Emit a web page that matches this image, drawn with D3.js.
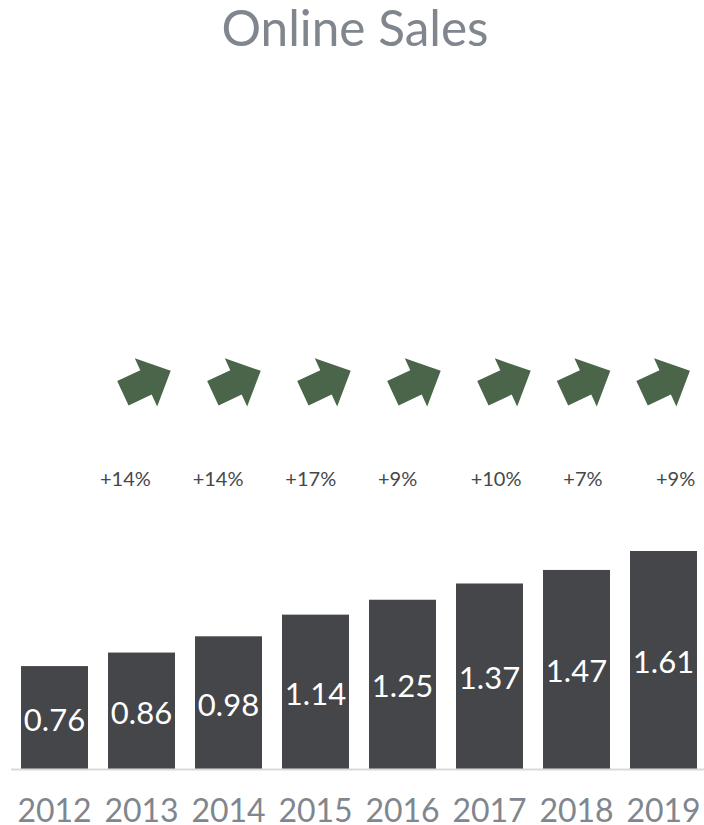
<!DOCTYPE html>
<html>
<head>
<meta charset="utf-8">
<script src="https://cdn.jsdelivr.net/npm/d3@7"></script>
<style>
  html, body { margin: 0; padding: 0; background: #ffffff; }
  svg { display: block; }
  text { font-family: Lato, "Open Sans", sans-serif; }
</style>
</head>
<body>
<svg id="chart" width="704" height="825"></svg>
<script>
// ---- data ----
const title = "Online Sales";
const years = ["2012", "2013", "2014", "2015", "2016", "2017", "2018", "2019"];
const sales = [0.76, 0.86, 0.98, 1.14, 1.25, 1.37, 1.47, 1.61];
const growthPct = [14, 14, 17, 9, 10, 7, 9];

// ---- layout ----
const svg = d3.select("#chart");

const x = d3.scaleBand()
  .domain(years)
  .range([11, 707])
  .paddingInner(0.23)
  .paddingOuter(0.115);

const y = d3.scaleLinear()
  .domain([0, d3.max(sales)])
  .range([769, 551]);

// title
svg.append("text")
  .attr("x", 355)
  .attr("y", 46)
  .attr("text-anchor", "middle")
  .attr("fill", "#80868e")
  .style("font-size", "49.5px")
  .text(title);

// bars
svg.append("g").selectAll("rect")
  .data(sales)
  .join("rect")
  .attr("x", (d, i) => x(years[i]))
  .attr("y", d => y(d))
  .attr("width", x.bandwidth())
  .attr("height", d => y(0) - y(d))
  .attr("fill", "#44464a");

// value labels (centered in bars)
svg.append("g").selectAll("text")
  .data(sales)
  .join("text")
  .attr("x", (d, i) => x(years[i]) + x.bandwidth() / 2)
  .attr("y", d => (y(d) + y(0)) / 2 + 1)
  .attr("text-anchor", "middle")
  .attr("dominant-baseline", "central")
  .attr("fill", "#ffffff")
  .style("font-size", "31px")
  .text(d => d.toFixed(2));

// baseline
svg.append("line")
  .attr("x1", 11).attr("x2", 704)
  .attr("y1", y(0) + 0.5).attr("y2", y(0) + 0.5)
  .attr("stroke", "#d9d9d9")
  .attr("stroke-width", 2);

// x axis labels
const xAxis = d3.axisBottom(x).tickSize(0).tickPadding(0);
const gx = svg.append("g")
  .attr("transform", `translate(0, ${y(0)})`)
  .call(xAxis);
gx.select(".domain").remove();
gx.selectAll("text")
  .attr("y", 52.5)
  .attr("dy", null)
  .attr("fill", "#80868e")
  .style("font-family", "Lato, sans-serif")
  .style("font-size", "32px");

// growth arrows
const arrowX = d3.scaleLinear().domain([0, 4, 6]).range([146.8, 506.8, 666]);
const arrowPts = [[-26.4, -13.5], [-0.9, -13.5], [-0.9, -26.5], [26.4, 0], [-0.9, 26.5], [-0.9, 13.5], [-26.4, 13.5]];
const arrowPath = d3.line()(arrowPts) + "Z";
svg.append("g").selectAll("path")
  .data(growthPct)
  .join("path")
  .attr("d", arrowPath)
  .attr("transform", (d, i) => `translate(${arrowX(i)}, 382) rotate(-25)`)
  .attr("fill", "#4a654a");

// growth labels
const labelX = d3.scaleLinear().domain([0, growthPct.length - 1]).range([100, 656]);
svg.append("g").selectAll("text")
  .data(growthPct)
  .join("text")
  .attr("x", (d, i) => labelX(i))
  .attr("y", 486)
  .attr("text-anchor", "start")
  .attr("fill", "#45474b")
  .style("font-size", "20px")
  .text(d => "+" + d + "%");
</script>
</body>
</html>
